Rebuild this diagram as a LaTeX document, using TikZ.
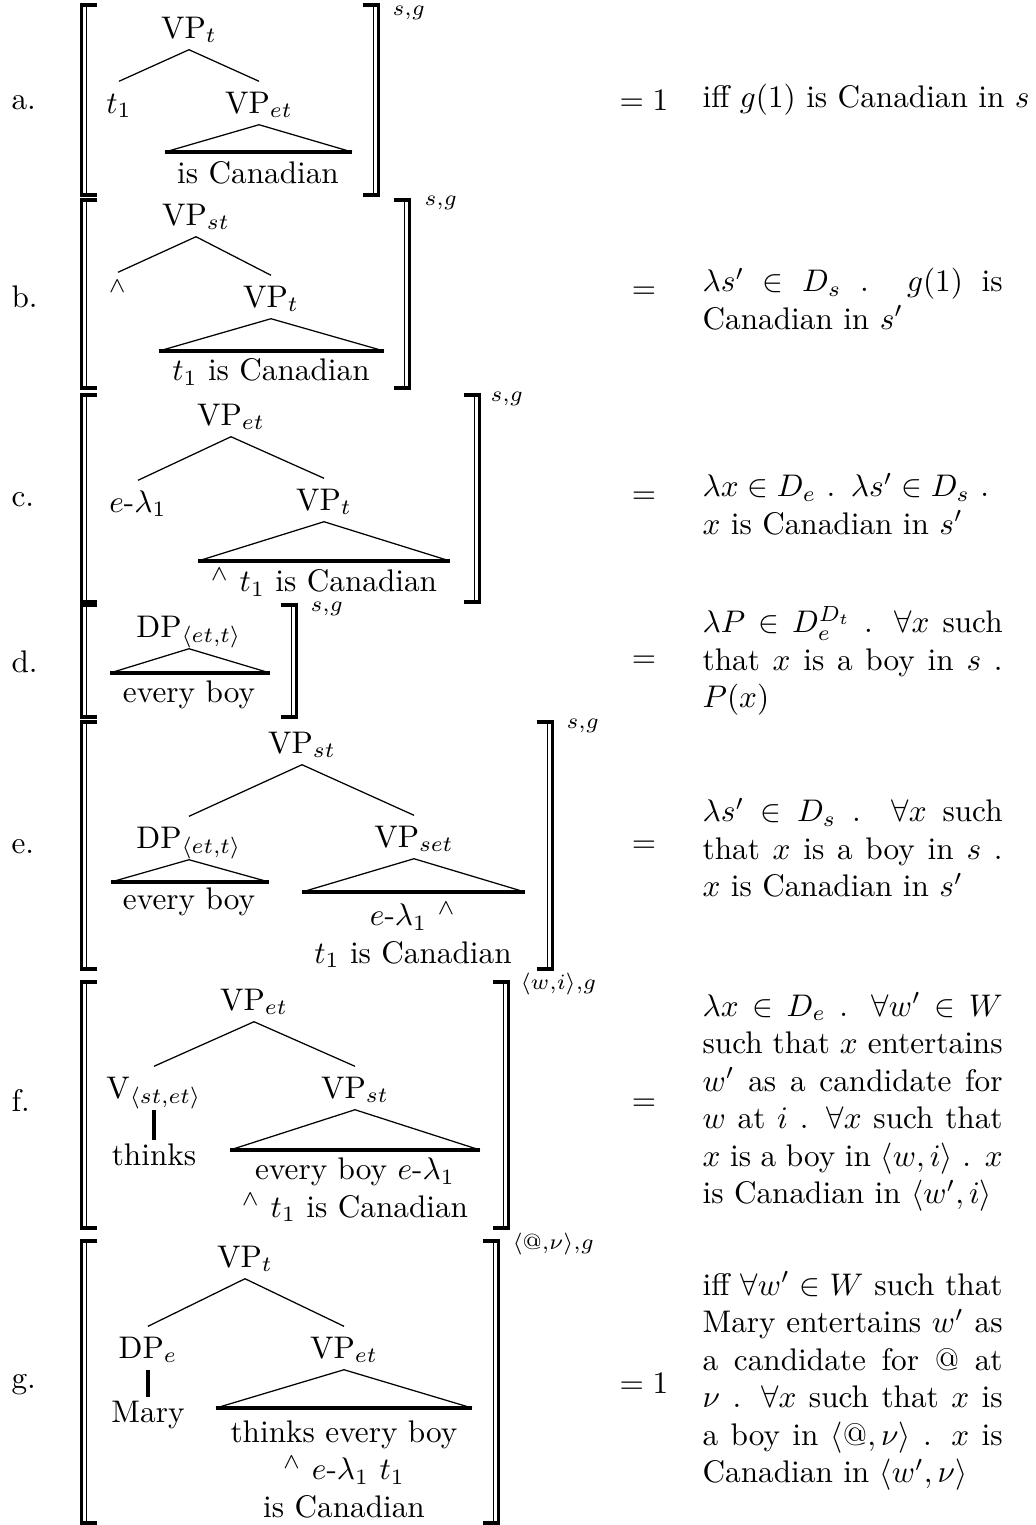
\documentclass[tikz,border=0pt]{standalone}
\usepackage{amsmath,amssymb}
\usepackage{tikz}
\newcommand{\jline}[1]{\makebox[96pt][s]{\spaceskip=0pt\xspaceskip=0pt #1}}
\tikzset{
  cat/.style={inner sep=2pt,text height=8pt,text depth=1.5pt},
  leaf/.style={inner sep=1pt,align=center},
  branch/.style={line width=0.4pt},
  roof/.style={line width=1pt},
  unary/.style={line width=1.1pt},
  brk/.style={line width=1pt},
  brkin/.style={line width=0.45pt},
  lbl/.style={anchor=west,inner sep=0pt},
  idx/.style={anchor=west,inner sep=0pt},
  eqn/.style={inner sep=0pt},
  gloss/.style={anchor=west,inner sep=0pt,text width=96pt,align=left},
}

\begin{document}
\begin{tikzpicture}[x=0.32pt,y=-0.32pt]
  \useasboundingbox (0,0) rectangle (1036,1525);

  \foreach \t/\b/\r in {5/195/378.5,200/388/409.5,395/602/479.5,605/717/296.5,722/969/552.5,982/1228/508.5,1241/1523/498.5}{
    \draw[brk] (97,\t) -- (81.5,\t) -- (81.5,\b) -- (97,\b);
    \draw[brkin] (86.5,\t) -- (86.5,\b);
    \draw[brk] (\r-16,\t) -- (\r,\t) -- (\r,\b) -- (\r-16,\b);
    \draw[brkin] (\r-5,\t) -- (\r-5,\b);
  }
  \foreach \l/\y in {a/103,b/297,c/500,d/662,e/847,f/1100,g/1385}
    \node[lbl] (lab-\l) at (11,\y) {\l.};

  % a.
  \node[cat] (a-top) at (189,28) {VP$_t$};
  \node[cat] (a-t) at (119,103) {$t_1$};
  \node[cat] (a-vp) at (259,103) {VP$_{et}$};
  \draw[branch] (a-top.south) -- (a-t.north);
  \draw[branch] (a-top.south) -- (a-vp.north);
  \coordinate (a-l) at (165,152);
  \coordinate (a-r) at (352,152);
  \draw[branch] (a-l) -- (a-vp.south) -- (a-r);
  \draw[roof] (a-l) -- (a-r);
  \node[leaf] (a-leaf) at (258,173) {is Canadian};
  \node[idx] (a-idx) at (392,13) {$\scriptstyle s,g$};
  \node[eqn] (a-eq) at (644,100) {$=1$};
  \node[anchor=west,inner sep=0pt] (a-gloss) at (702,100) {iff $g(1)$ is Canadian in $s$};

  % b.
  \node[cat] (b-top) at (196,215) {VP$_{st}$};
  \node[cat] (b-wedge) at (118,294) {${}^\wedge$};
  \node[cat] (b-vp) at (271,297) {VP$_t$};
  \draw[branch] (b-top.south) -- (b-wedge.north);
  \draw[branch] (b-top.south) -- (b-vp.north);
  \coordinate (b-l) at (159,351);
  \coordinate (b-r) at (384,351);
  \draw[branch] (b-l) -- (b-vp.south) -- (b-r);
  \draw[roof] (b-l) -- (b-r);
  \node[leaf] (b-leaf) at (271,372) {$t_1$ is Canadian};
  \node[idx] (b-idx) at (424,203) {$\scriptstyle s,g$};
  \node[eqn] (b-eq) at (644,293) {$=$};
  \node[gloss] (b-gloss) at (702,299) {\jline{$\lambda s'$ $\in$ $D_s$ . $g(1)$ is}\\ Canadian in $s'$};

  % c.
  \node[cat] (c-top) at (231,415) {VP$_{et}$};
  \node[cat] (c-lam) at (138,502) {$e$-$\lambda_1$};
  \node[cat] (c-vp) at (324,500) {VP$_t$};
  \draw[branch] (c-top.south) -- (c-lam.north);
  \draw[branch] (c-top.south) -- (c-vp.north);
  \coordinate (c-l) at (198,561);
  \coordinate (c-r) at (450,561);
  \draw[branch] (c-l) -- (c-vp.south) -- (c-r);
  \draw[roof] (c-l) -- (c-r);
  \node[leaf] (c-leaf) at (324,582) {${}^\wedge$ $t_1$ is Canadian};
  \node[idx] (c-idx) at (490,399) {$\scriptstyle s,g$};
  \node[eqn] (c-eq) at (644,498) {$=$};
  \node[gloss] (c-gloss) at (702,504) {$\lambda x \in D_e$ . $\lambda s' \in D_s$ .\\ $x$ is Canadian in $s'$};

  % d.
  \node[cat] (d-dp) at (189,627) {DP$_{\langle et,t\rangle}$};
  \coordinate (d-l) at (110,673);
  \coordinate (d-r) at (270,673);
  \draw[branch] (d-l) -- (d-dp.south) -- (d-r);
  \draw[roof] (d-l) -- (d-r);
  \node[leaf] (d-leaf) at (189,695) {every boy};
  \node[idx] (d-idx) at (310,609) {$\scriptstyle s,g$};
  \node[eqn] (d-eq) at (644,662) {$=$};
  \node[gloss] (d-gloss) at (702,661) {\jline{$\lambda P$ $\in$ $D_e^{D_t}$ . $\forall x$ such}\\ \jline{that $x$ is a boy in $s$ .}\\ $P(x)$};

  % e.
  \node[cat] (e-top) at (302,743) {VP$_{st}$};
  \node[cat] (e-dp) at (189,838) {DP$_{\langle et,t\rangle}$};
  \node[cat] (e-vp) at (414,837) {VP$_{set}$};
  \draw[branch] (e-top.south) -- (e-dp.north);
  \draw[branch] (e-top.south) -- (e-vp.north);
  \coordinate (e-dl) at (111,882);
  \coordinate (e-dr) at (269,882);
  \draw[branch] (e-dl) -- (e-dp.south) -- (e-dr);
  \draw[roof] (e-dl) -- (e-dr);
  \node[leaf] (e-dleaf) at (189,902) {every boy};
  \coordinate (e-l) at (302,892);
  \coordinate (e-r) at (525,892);
  \draw[branch] (e-l) -- (e-vp.south) -- (e-r);
  \draw[roof] (e-l) -- (e-r);
  \node[leaf] (e-leaf) at (413,935) {$e$-$\lambda_1$ ${}^\wedge$\\ $t_1$ is Canadian};
  \node[idx] (e-idx) at (566,726) {$\scriptstyle s,g$};
  \node[eqn] (e-eq) at (644,847) {$=$};
  \node[gloss] (e-gloss) at (702,848) {\jline{$\lambda s'$ $\in$ $D_s$ . $\forall x$ such}\\ \jline{that $x$ is a boy in $s$ .}\\ $x$ is Canadian in $s'$};

  % f.
  \node[cat] (f-top) at (254,1000) {VP$_{et}$};
  \node[cat] (f-v) at (154,1088) {V$_{\langle st,et\rangle}$};
  \node[cat] (f-vp) at (355,1088) {VP$_{st}$};
  \draw[branch] (f-top.south) -- (f-v.north);
  \draw[branch] (f-top.south) -- (f-vp.north);
  \node[leaf] (f-thinks) at (154,1155) {thinks};
  \draw[unary] (f-v.south) -- (f-thinks.north);
  \coordinate (f-l) at (230,1150);
  \coordinate (f-r) at (480,1150);
  \draw[branch] (f-l) -- (f-vp.south) -- (f-r);
  \draw[roof] (f-l) -- (f-r);
  \node[leaf] (f-leaf) at (355,1190) {every boy $e$-$\lambda_1$\\ ${}^\wedge$ $t_1$ is Canadian};
  \node[idx] (f-idx) at (520,984) {$\scriptstyle \langle w,i\rangle,g$};
  \node[eqn] (f-eq) at (644,1105) {$=$};
  \node[gloss] (f-gloss) at (702,1102) {\jline{$\lambda x$ $\in$ $D_e$ . $\forall w'$ $\in$ $W$}\\ \jline{such that $x$ entertains}\\ \jline{$w'$ as a candidate for}\\ \jline{$w$ at $i$ . $\forall x$ such that}\\ \jline{$x$ is a boy in $\langle w,i\rangle$ . $x$}\\ is Canadian in $\langle w',i\rangle$};

  % g.
  \node[cat] (g-top) at (245,1257) {VP$_t$};
  \node[cat] (g-dp) at (148,1348) {DP$_e$};
  \node[cat] (g-vp) at (344,1348) {VP$_{et}$};
  \draw[branch] (g-top.south) -- (g-dp.north);
  \draw[branch] (g-top.south) -- (g-vp.north);
  \node[leaf] (g-mary) at (148,1415) {Mary};
  \draw[unary] (g-dp.south) -- (g-mary.north);
  \coordinate (g-l) at (216,1408);
  \coordinate (g-r) at (472,1408);
  \draw[branch] (g-l) -- (g-vp.south) -- (g-r);
  \draw[roof] (g-l) -- (g-r);
  \node[leaf] (g-leaf) at (344,1469) {thinks every boy\\ ${}^\wedge$ $e$-$\lambda_1$ $t_1$\\ is Canadian};
  \node[idx] (g-idx) at (512,1244) {$\scriptstyle \langle @,\nu\rangle,g$};
  \node[eqn] (g-eq) at (644,1383) {$=1$};
  \node[gloss] (g-gloss) at (702,1381) {\jline{iff $\forall w' \in W$ such that}\\ \jline{Mary entertains $w'$ as}\\ \jline{a candidate for @ at}\\ \jline{$\nu$ . $\forall x$ such that $x$ is}\\ \jline{a boy in $\langle @,\nu\rangle$ . $x$ is}\\ Canadian in $\langle w',\nu\rangle$};
\end{tikzpicture}
\end{document}
